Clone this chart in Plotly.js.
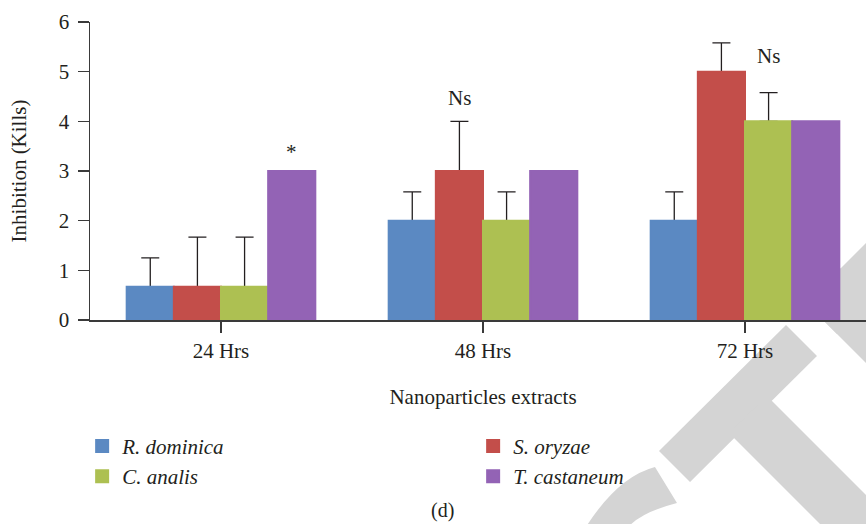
<!DOCTYPE html>
<html>
<head>
<meta charset="utf-8">
<script src="https://cdn.plot.ly/plotly-3.0.1.min.js"></script>
<style>
html,body{margin:0;padding:0;overflow:hidden;background:#fff;}
#chart{width:876px;height:524px;}
</style>
</head>
<body>
<div id="chart"></div>
<script>
// ---- data ----
const categories = ['24 Hrs', '48 Hrs', '72 Hrs'];
const seriesNames = ['R. dominica', 'S. oryzae', 'C. analis', 'T. castaneum'];
const rDominica = [0.67, 2, 2];
const sOryzae = [0.67, 3, 5];
const cAnalis = [0.67, 2, 4];
const tCastaneum = [3, 3, 4];
const rDominicaErr = [0.58, 0.58, 0.58];
const sOryzaeErr = [1.0, 1.0, 0.58];
const cAnalisErr = [1.0, 0.58, 0.58];
const tCastaneumErr = [0, 0, 0];
const yTickVals = [0, 1, 2, 3, 4, 5, 6];
const sigLabels = ['*', 'Ns', 'Ns'];

// ---- styling ----
const colors = ['#5b89c2', '#c34e4a', '#adc052', '#9363b5'];
const txt = '#231f20';
const FONT = 'Liberation Serif, Times New Roman, serif';
const values = [rDominica, sOryzae, cAnalis, tCastaneum];
const errs = [rDominicaErr, sOryzaeErr, cAnalisErr, tCastaneumErr];

const traces = [];
// error-bar carriers (transparent bars, drawn first so visible bars cover the lower cap)
values.forEach((v, i) => {
  traces.push({
    type: 'bar', x: categories, y: v, offsetgroup: 'g' + i,
    marker: {color: 'rgba(0,0,0,0)'}, showlegend: false, hoverinfo: 'skip',
    error_y: {type: 'data', symmetric: false, array: errs[i], arrayminus: errs[i].map(() => 0),
              visible: errs[i].some(e => e > 0), color: txt, thickness: 1.3, width: 9}
  });
});
values.forEach((v, i) => {
  traces.push({
    type: 'bar', x: categories, y: v, offsetgroup: 'g' + i,
    name: '<i>' + seriesNames[i] + '</i>',
    marker: {color: colors[i], line: {color: colors[i], width: 2}}
  });
});

// ---- watermark (pixel geometry converted to paper coords) ----
const L = 90, R = 876, T = 22, B = 320;
const fx = p => ((p - L) / (R - L)).toFixed(4);
const fy = p => ((B - p) / (B - T)).toFixed(4);
const poly = pts => 'M' + pts.map(p => fx(p[0]) + ',' + fy(p[1])).join('L') + 'Z';
const wmColor = '#d4d4d4';
const wmPaths = [
  poly([[659, 451], [786, 325], [817, 356], [690, 482]]),
  poly([[767, 396], [923, 552], [848, 552], [729, 433]]),
  poly([[806, 303], [1006, 103], [1037, 134], [837, 334]]),
  poly([[806, 303], [841, 268], [1141, 568], [1106, 603]]),
  'M' + fx(655) + ',' + fy(467) + 'Q' + fx(617) + ',' + fy(477) + ' ' + fx(584) + ',' + fy(530) +
  'L' + fx(626) + ',' + fy(530) + 'Q' + fx(638) + ',' + fy(513) + ' ' + fx(677) + ',' + fy(503) + 'Z'
];
const shapes = wmPaths.map(p => ({type: 'path', xref: 'paper', yref: 'paper', path: p,
  fillcolor: wmColor, line: {width: 0}, layer: 'below'}));

const annotations = [
  {x: 0.27, y: 3.1, text: sigLabels[0]},
  {x: 0.91, y: 4.19, text: sigLabels[1]},
  {x: 2.09, y: 5.03, text: sigLabels[2]}
].map(a => Object.assign(a, {xref: 'x', yref: 'y', showarrow: false, yanchor: 'bottom',
  font: {family: FONT, size: 21, color: txt}}));
annotations.push({xref: 'paper', yref: 'paper', x: 0.449, y: -0.6825, text: '(d)', showarrow: false,
  xanchor: 'center', yanchor: 'bottom', borderpad: 0, font: {family: FONT, size: 20, color: txt}});

const layout = {
  width: 876, height: 524,
  margin: {l: 90, r: 0, t: 22, b: 204},
  paper_bgcolor: '#fff', plot_bgcolor: 'rgba(0,0,0,0)',
  barmode: 'group', bargap: 0.28, bargroupgap: 0,
  font: {family: FONT, size: 21, color: txt},
  showlegend: true,
  legend: {orientation: 'h', x: -0.01, xanchor: 'left', y: -0.355, yanchor: 'top',
           entrywidth: 346, entrywidthmode: 'pixels', traceorder: 'normal',
           font: {family: FONT, size: 21, color: txt}, bgcolor: 'rgba(0,0,0,0)'},
  xaxis: {type: 'category', range: [-0.5, 2.5], showline: true, linecolor: '#3a3a3a', linewidth: 1.5,
          ticks: 'outside', ticklen: 11, tickwidth: 1.3, tickcolor: '#3a3a3a', showgrid: false, zeroline: false,
          tickfont: {family: FONT, size: 21, color: txt},
          title: {text: 'Nanoparticles extracts', standoff: 27, font: {family: FONT, size: 21, color: txt}}},
  yaxis: {range: [0, 6], tickvals: yTickVals, showline: true, linecolor: '#3a3a3a', linewidth: 1.5,
          ticks: 'outside', ticklen: 11, tickwidth: 1.3, tickcolor: '#3a3a3a', showgrid: false, zeroline: false,
          ticklabelstandoff: 4,
          tickfont: {family: FONT, size: 21, color: txt},
          title: {text: 'Inhibition (Kills)', standoff: 26, font: {family: FONT, size: 21, color: txt}}},
  shapes: shapes,
  annotations: annotations
};

Plotly.newPlot('chart', traces, layout, {displayModeBar: false, staticPlot: true});
</script>
</body>
</html>
